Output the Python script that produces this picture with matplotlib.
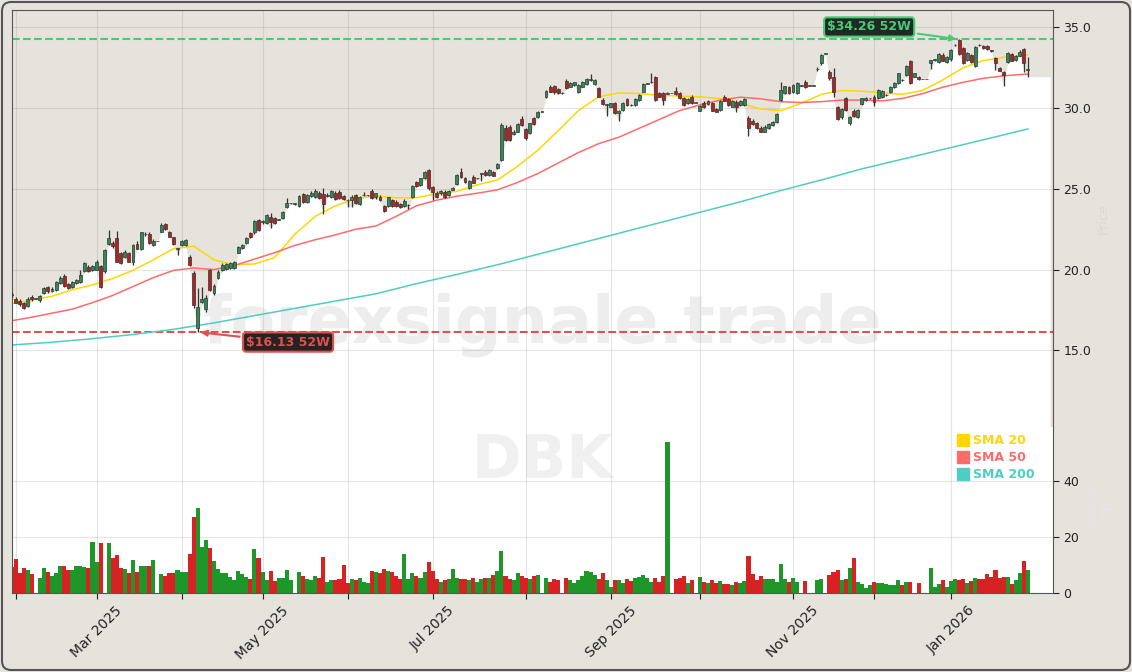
import matplotlib.pyplot as plt
from matplotlib.patches import FancyBboxPatch
from matplotlib.lines import Line2D
import numpy as np
import pandas as pd

ticker = "DBK"
watermark = "forexsignale.trade"

# trading calendar (Xetra holidays removed)
holidays = ["2025-04-18", "2025-04-21", "2025-05-01", "2025-12-24",
            "2025-12-25", "2025-12-26", "2025-12-31", "2026-01-01"]
dates = pd.bdate_range("2025-01-31", "2026-01-29", freq="C", holidays=holidays)

opens = [
  18.5, 18.2, 18.05, 17.9, 17.75, 18.3, 18.2, 18.1, 18.55, 18.9,
  18.7, 18.75, 19.2, 19.6, 19.1, 18.9, 19.15, 19.25, 19.9, 20.15,
  19.95, 20.0, 20.2, 19.9, 21.6, 21.65, 21.95, 21.0, 20.8, 21.0,
  20.45, 21.6, 21.3, 22.2, 22.2, 21.5, 21.75, 22.35, 22.8, 22.3,
  22.0, 21.3, 21.5, 21.5, 20.75, 19.8, 16.4, 18.0, 17.55, 19.95,
  18.55, 19.45, 20.0, 20.05, 20.1, 20.1, 21.05, 21.35, 21.65, 22.25,
  22.3, 23.05, 22.95, 22.9, 23.28, 23.18, 23.1, 23.18, 23.9, 24.1,
  24.07, 23.94, 24.69, 24.21, 24.56, 24.52, 24.77, 24.69, 24.56, 24.52,
  24.77, 24.83, 24.56, 24.32, 24.32, 24.63, 24.07, 24.6, 24.6, 24.89,
  24.48, 24.52, 23.96, 23.94, 24.32, 24.21, 24.07, 23.94, 24.0, 24.52,
  25.45, 25.24, 25.66, 26.17, 25.14, 24.77, 24.73, 24.83, 24.63, 24.94,
  25.29, 26.05, 25.66, 25.04, 25.76, 25.66, 25.93, 26.07, 25.86, 26.03,
  26.28, 26.79, 28.76, 28.82, 28.41, 28.55, 29.31, 28.7, 28.45, 29.38,
  29.44, 29.79, 30.68, 31.34, 31.38, 31.17, 30.92, 31.71, 31.34, 31.44,
  31.03, 31.34, 31.5, 31.75, 31.5, 31.23, 30.51, 30.2, 30.1, 30.31,
  29.69, 29.89, 30.55, 30.2, 30.2, 30.51, 31.03, 31.52, 31.6, 31.92,
  30.92, 30.92, 30.9, 30.92, 31.07, 30.92, 30.62, 30.31, 30.72, 30.35,
  29.85, 30.35, 30.26, 30.31, 29.93, 29.89, 30.72, 30.55, 30.1, 30.41,
  30.2, 30.2, 29.38, 29.21, 29.07, 28.8, 28.55, 28.76, 28.96, 29.17,
  30.51, 30.92, 31.33, 31.02, 30.92, 31.4, 31.64, 31.38, 31.38, 32.4,
  32.78, 33.36, 32.26, 31.95, 30.05, 29.43, 30.61, 29.1, 29.85, 29.43,
  30.26, 30.51, 30.6, 30.71, 30.61, 30.71, 30.8, 31.02, 31.29, 31.58,
  31.75, 32.06, 32.95, 31.95, 31.95, 31.79, 31.79, 32.78, 32.99, 32.88,
  33.3, 32.88, 33.03, 33.9, 34.2, 33.71, 32.99, 33.3, 32.61, 33.92,
  33.85, 33.85, 33.57, 33.09, 32.47, 32.26, 32.88, 33.36, 32.99, 33.23,
  33.65, 32.38,
]
highs = [
  18.6, 18.3, 18.15, 18.0, 18.3, 18.4, 18.2, 18.45, 18.9, 19.0,
  18.9, 19.3, 19.6, 19.7, 19.2, 19.3, 19.4, 20.0, 20.45, 20.3,
  20.3, 20.6, 20.3, 21.3, 22.45, 21.75, 22.4, 21.1, 21.2, 21.1,
  21.6, 21.75, 22.35, 22.3, 22.3, 21.9, 21.75, 22.9, 22.9, 22.4,
  22.05, 21.35, 21.85, 21.9, 20.9, 19.9, 18.85, 18.9, 18.4, 20.05,
  19.1, 19.95, 20.4, 20.4, 20.45, 20.55, 21.45, 21.6, 22.0, 22.3,
  23.1, 23.15, 23.05, 23.45, 23.49, 23.25, 23.15, 23.65, 24.42, 24.15,
  24.12, 24.6, 24.75, 24.7, 24.85, 25.0, 24.85, 25.04, 24.75, 24.95,
  24.85, 24.9, 24.62, 24.4, 24.6, 24.7, 24.55, 24.82, 24.65, 25.0,
  24.75, 24.6, 24.0, 24.5, 24.4, 24.3, 24.15, 24.35, 24.05, 25.25,
  25.5, 25.7, 26.1, 26.25, 25.2, 24.85, 24.95, 24.9, 24.95, 25.12,
  25.9, 26.3, 25.75, 25.55, 25.85, 25.7, 25.97, 26.15, 26.25, 26.1,
  26.6, 29.05, 28.95, 28.95, 28.62, 29.1, 29.5, 28.8, 29.1, 29.45,
  29.85, 29.85, 31.15, 31.45, 31.45, 31.25, 30.97, 31.8, 31.6, 31.62,
  31.5, 31.7, 31.85, 32.12, 31.8, 31.3, 30.6, 30.25, 30.35, 30.4,
  29.9, 30.4, 30.65, 30.25, 30.6, 30.85, 31.55, 31.58, 32.2, 32.0,
  31.0, 31.0, 30.97, 30.92, 31.34, 30.97, 30.7, 30.6, 30.8, 30.35,
  30.18, 30.45, 30.5, 30.4, 30.0, 30.5, 30.8, 30.6, 30.5, 30.5,
  30.5, 30.6, 29.5, 29.3, 29.15, 28.88, 28.95, 29.1, 29.2, 29.7,
  31.65, 31.4, 31.4, 31.5, 31.6, 31.45, 31.75, 31.38, 31.38, 32.55,
  33.36, 33.36, 32.37, 32.47, 30.15, 30.0, 30.7, 29.5, 29.95, 29.95,
  30.65, 30.7, 30.65, 30.8, 31.2, 31.15, 30.85, 31.4, 31.65, 32.2,
  31.8, 32.65, 33.0, 32.2, 32.0, 31.79, 31.79, 33.0, 33.05, 33.4,
  33.4, 33.2, 33.65, 34.0, 34.26, 33.8, 33.45, 33.35, 33.85, 33.97,
  33.9, 33.9, 33.62, 33.15, 32.55, 32.3, 33.45, 33.4, 33.3, 33.6,
  33.7, 33.19,
]
lows = [
  18.3, 17.9, 17.75, 17.55, 17.7, 18.05, 18.2, 18.0, 18.5, 18.55,
  18.6, 18.7, 19.1, 18.95, 18.8, 18.85, 19.1, 19.2, 19.85, 19.85,
  19.9, 19.95, 18.85, 19.8, 21.55, 21.35, 20.45, 20.35, 20.7, 20.45,
  20.3, 21.25, 21.2, 22.1, 21.6, 21.45, 21.75, 22.3, 22.45, 22.0,
  21.55, 20.9, 21.45, 21.45, 20.25, 17.6, 16.13, 17.9, 17.4, 18.7,
  18.4, 19.4, 19.9, 20.0, 20.05, 20.05, 21.0, 21.3, 21.6, 21.95,
  22.2, 22.4, 22.85, 22.85, 22.56, 22.85, 23.05, 23.12, 23.8, 24.05,
  24.0, 23.9, 24.15, 24.15, 24.5, 24.45, 24.4, 23.45, 24.5, 24.45,
  24.3, 24.35, 24.3, 23.9, 23.9, 24.05, 24.0, 24.55, 24.55, 24.4,
  24.4, 24.25, 23.55, 23.9, 23.9, 23.9, 23.8, 23.9, 23.74, 24.45,
  25.1, 25.2, 25.6, 24.95, 24.32, 24.45, 24.65, 24.45, 24.55, 24.9,
  25.25, 25.65, 25.35, 25.0, 25.35, 25.6, 25.5, 25.82, 25.8, 25.78,
  26.25, 26.75, 27.95, 27.95, 28.35, 28.5, 28.9, 28.05, 28.4, 28.98,
  29.4, 29.75, 30.6, 30.98, 30.9, 30.88, 30.88, 31.18, 31.3, 31.4,
  30.95, 31.3, 31.45, 31.7, 31.45, 30.68, 30.22, 29.5, 30.05, 29.65,
  29.23, 29.85, 30.15, 30.15, 30.15, 30.45, 31.0, 31.5, 31.55, 30.45,
  30.68, 30.2, 30.85, 30.92, 30.82, 30.58, 30.15, 30.25, 30.28, 30.35,
  29.8, 30.0, 30.2, 29.8, 29.75, 29.85, 30.43, 30.15, 30.05, 29.79,
  30.15, 30.15, 28.28, 28.95, 28.7, 28.5, 28.5, 28.7, 28.9, 29.1,
  30.45, 30.85, 30.85, 30.95, 30.85, 31.35, 31.23, 31.38, 31.38, 32.3,
  32.7, 33.36, 31.75, 30.71, 29.25, 29.35, 29.85, 28.95, 29.45, 29.38,
  30.2, 30.45, 30.55, 30.14, 30.55, 30.65, 30.78, 30.95, 31.25, 31.5,
  31.7, 32.0, 31.5, 31.9, 31.75, 31.79, 31.79, 32.45, 32.9, 32.82,
  32.9, 32.82, 32.95, 33.85, 33.3, 32.75, 32.95, 32.82, 32.55, 33.87,
  33.65, 33.6, 33.5, 32.37, 32.28, 31.38, 32.8, 32.9, 32.95, 33.2,
  32.26, 31.95,
]
closes = [
  18.4, 17.95, 17.85, 17.65, 18.2, 18.15, 18.2, 18.35, 18.85, 18.65,
  18.8, 19.25, 19.5, 19.0, 18.85, 19.25, 19.35, 19.65, 20.4, 19.9,
  20.2, 20.5, 18.9, 21.2, 21.95, 21.45, 20.5, 20.4, 21.1, 20.5,
  21.5, 21.3, 22.3, 22.2, 21.65, 21.8, 21.75, 22.75, 22.5, 22.05,
  21.6, 21.3, 21.8, 21.85, 20.3, 17.8, 17.7, 18.2, 18.25, 18.75,
  19.0, 19.85, 20.3, 20.33, 20.38, 20.48, 21.4, 21.55, 21.95, 22.05,
  23.0, 22.45, 22.97, 23.38, 22.97, 22.91, 23.12, 23.59, 24.11, 24.11,
  24.07, 24.56, 24.21, 24.63, 24.77, 24.89, 24.46, 24.07, 24.6, 24.89,
  24.36, 24.42, 24.36, 24.3, 24.52, 24.11, 24.52, 24.65, 24.6, 24.42,
  24.73, 24.32, 23.63, 24.48, 23.94, 23.94, 23.86, 24.27, 24.01, 25.18,
  25.18, 25.66, 26.03, 25.04, 24.83, 24.52, 24.89, 24.52, 24.89, 25.08,
  25.86, 25.72, 25.41, 25.51, 25.39, 25.67, 25.93, 25.86, 26.17, 25.82,
  26.55, 28.96, 28.03, 28.03, 28.55, 29.02, 28.96, 28.14, 29.07, 29.02,
  29.79, 29.8, 31.07, 31.03, 30.97, 30.92, 30.93, 31.23, 31.54, 31.59,
  31.44, 31.65, 31.79, 31.76, 31.75, 30.72, 30.26, 30.2, 30.31, 29.69,
  29.85, 30.35, 30.2, 30.19, 30.55, 30.82, 31.5, 31.55, 31.65, 30.51,
  30.72, 30.51, 30.93, 30.92, 30.86, 30.62, 30.2, 30.55, 30.31, 30.35,
  30.14, 30.06, 30.47, 29.85, 29.79, 30.47, 30.47, 30.2, 30.47, 30.1,
  30.47, 30.55, 28.76, 29.02, 28.76, 28.55, 28.86, 29.02, 29.17, 29.64,
  31.13, 31.35, 30.92, 31.44, 31.54, 31.4, 31.33, 31.38, 31.38, 32.45,
  33.3, 33.36, 31.85, 31.02, 29.31, 29.93, 29.89, 29.43, 29.52, 29.89,
  30.61, 30.65, 30.61, 30.4, 31.13, 31.09, 30.82, 31.33, 31.58, 32.16,
  31.74, 32.61, 31.54, 32.16, 31.79, 31.79, 31.79, 32.99, 33.0, 33.36,
  32.95, 33.15, 33.61, 33.92, 33.36, 32.82, 33.4, 32.88, 33.81, 33.9,
  33.71, 33.65, 33.55, 32.78, 32.33, 32.06, 33.4, 32.95, 33.23, 33.5,
  32.78, 32.42,
]
# volume in millions
volumes = [
  9.4, 12.0, 7.3, 8.8, 8.2, 6.8, 0, 5.2, 8.8, 7.4,
  6.1, 7.0, 9.6, 9.6, 8.2, 8.2, 9.6, 9.6, 9.4, 8.8,
  18.1, 11.0, 17.7, 0, 17.7, 12.4, 13.6, 8.8, 8.5, 7.3,
  11.8, 7.4, 9.6, 9.6, 9.6, 11.8, 0, 6.7, 6.1, 7.0,
  7.0, 8.2, 7.4, 7.4, 13.9, 27.0, 30.2, 16.5, 18.9, 16.0,
  11.4, 8.5, 7.0, 7.0, 5.6, 4.6, 7.9, 6.8, 5.6, 4.9,
  15.7, 12.4, 7.4, 4.6, 7.9, 4.2, 5.2, 5.2, 8.2, 4.6,
  0, 7.4, 6.0, 5.0, 4.5, 6.0, 5.5, 13.0, 4.0, 4.5,
  4.5, 5.0, 10.0, 3.5, 5.0, 4.5, 5.5, 4.0, 3.5, 8.0,
  7.5, 7.0, 8.5, 8.0, 7.5, 6.0, 5.0, 14.0, 5.0, 7.0,
  6.0, 5.5, 7.5, 11.0, 8.0, 5.0, 4.0, 4.5, 5.0, 8.5,
  5.5, 5.0, 5.0, 4.5, 5.5, 4.0, 5.0, 5.5, 5.5, 6.5,
  8.0, 15.0, 6.0, 5.0, 4.5, 7.0, 6.0, 5.5, 5.0, 6.0,
  6.5, 0, 5.5, 4.0, 5.0, 4.5, 0, 5.5, 4.5, 3.5,
  4.5, 6.0, 8.0, 7.5, 6.5, 5.0, 7.0, 4.6, 2.3, 4.6,
  4.6, 3.7, 5.0, 4.3, 5.2, 5.8, 6.4, 5.2, 4.0, 5.2,
  4.0, 6.1, 53.9, 0, 5.0, 5.2, 6.1, 3.7, 4.6, 0,
  5.8, 4.0, 3.7, 4.6, 3.5, 4.3, 3.2, 3.2, 2.9, 3.8,
  3.5, 4.3, 13.2, 6.8, 4.6, 6.1, 5.0, 5.0, 5.0, 3.8,
  10.4, 5.0, 3.8, 5.2, 3.8, 0, 4.2, 0, 0, 4.6,
  5.0, 0, 6.5, 7.5, 8.2, 4.5, 5.0, 8.8, 12.6, 3.8,
  3.2, 1.7, 2.9, 3.8, 3.5, 3.5, 3.2, 2.9, 2.9, 4.6,
  2.9, 3.8, 3.8, 0, 3.5, 0, 0, 8.8, 2.3, 3.2,
  4.6, 2.3, 4.3, 4.9, 4.6, 4.9, 3.5, 4.3, 5.2, 5.0,
  5.0, 6.8, 5.8, 8.2, 5.2, 5.6, 5.6, 3.2, 4.6, 7.0,
  11.4, 8.2,
]

sma20_idx = list(range(0, 251, 5)) + [251]
sma20 = [17.9, 18.1, 18.35, 18.75, 19.05, 19.45, 19.95, 20.6, 21.3, 21.45,
         20.6, 20.3, 20.35, 20.75, 22.2, 23.3, 23.95, 24.4, 24.55, 24.45,
         24.45, 24.7, 24.85, 25.25, 25.55, 26.4, 27.4, 28.6, 29.85, 30.7,
         30.95, 30.9, 30.8, 30.75, 30.7, 30.6, 30.3, 29.95, 29.85, 30.3,
         30.85, 31.1, 31.05, 30.95, 30.85, 31.1, 31.75, 32.5, 32.95, 33.15,
         33.3, 33.3]
sma50_idx = list(range(0, 251, 5)) + [251]
sma50 = [16.83, 17.05, 17.3, 17.55, 17.95, 18.4, 18.95, 19.5, 19.95, 20.1,
         20.0, 20.25, 20.65, 21.05, 21.5, 21.85, 22.15, 22.5, 22.7, 23.3,
         23.95, 24.3, 24.55, 24.73, 24.94, 25.4, 25.95, 26.6, 27.25, 27.8,
         28.2, 28.75, 29.3, 29.85, 30.2, 30.5, 30.68, 30.58, 30.4, 30.35,
         30.4, 30.5, 30.5, 30.45, 30.6, 30.9, 31.3, 31.6, 31.85, 32.0,
         32.1, 32.1]
sma200_idx = list(range(0, 251, 10)) + [251]
sma200 = [15.33, 15.5, 15.72, 15.98, 16.3, 16.7, 17.15, 17.6, 18.05, 18.5,
          19.13, 19.7, 20.3, 20.95, 21.6, 22.25, 22.9, 23.55, 24.2, 24.9,
          25.55, 26.24, 26.84, 27.44, 28.04, 28.65, 28.71]

bg = "#e6e3dd"
up_col, dn_col = "#2e8b57", "#b22222"
vup_col, vdn_col = "#1e962a", "#d62222"
sma_cols = ["#FFD700", "#FF6B6B", "#4ECDC4"]
hi_col, lo_col = "#4cc878", "#d9534f"

W, H = 1132, 672
fig = plt.figure(figsize=(W / 100, H / 100), dpi=100, facecolor=bg)
left, right = 11.5 / W, 1053 / W
ax = fig.add_axes([left, (H - 427) / H, right - left, (427 - 10) / H], facecolor=bg)
axv = fig.add_axes([left, (H - 593) / H, right - left, (593 - 427) / H], facecolor="white")

n = len(closes)
x = np.arange(n)
o, h, l, c = (np.array(a) for a in (opens, highs, lows, closes))
up = c >= o

# white area under the lows
xf = np.append(x, n - 1 + 5.5)
lf = np.append(l, l[-1])
ax.fill_between(xf, lf, 0, color="white", lw=0, zorder=0.5)

# candles
ax.vlines(x, l, h, color="#333333", lw=0.9, zorder=3)
body = np.maximum(np.abs(c - o), 0.03)
ax.bar(x, body, bottom=np.minimum(o, c), width=0.72,
       color=np.where(up, up_col, dn_col), edgecolor="#333333", lw=0.5, zorder=4)

# moving averages
ax.plot(sma20_idx, sma20, color=sma_cols[0], lw=1.1, zorder=2.5)
ax.plot(sma50_idx, sma50, color=sma_cols[1], lw=1.1, zorder=2.5)
ax.plot(sma200_idx, sma200, color=sma_cols[2], lw=1.1, zorder=2.5)

# 52 week high / low
hi_i, lo_i = int(np.argmax(h)), int(np.argmin(l))
hi, lo = h[hi_i], l[lo_i]
ax.axhline(hi, color=hi_col, ls="--", lw=1.5, zorder=2)
ax.axhline(lo, color=lo_col, ls="--", lw=1.5, zorder=2)
ax.annotate(f"${hi:.2f} 52W", xy=(hi_i, hi), xytext=(211.8, 35.03),
            ha="center", va="center", fontsize=9, fontweight="bold", color=hi_col,
            bbox=dict(boxstyle="round,pad=0.25", fc="#1f2a24", ec=hi_col, lw=1.5),
            arrowprops=dict(arrowstyle="-|>", color=hi_col, lw=1.5), zorder=6)
ax.annotate(f"${lo:.2f} 52W", xy=(lo_i, lo), xytext=(68.3, 15.51),
            ha="center", va="center", fontsize=9, fontweight="bold", color=lo_col,
            bbox=dict(boxstyle="round,pad=0.25", fc="#2a2222", ec=lo_col, lw=1.5),
            arrowprops=dict(arrowstyle="-|>", color=lo_col, lw=1.5), zorder=6)

ax.text(0.51, 0.245, watermark, transform=ax.transAxes, ha="center", va="center",
        fontsize=47, fontweight="bold", color="#888888", alpha=0.15, zorder=1)

# volume
v = np.array(volumes)
axv.bar(x, v, width=1.0, color=np.where(up, vup_col, vdn_col), zorder=2)
axv.text(0.51, 0.795, ticker, transform=axv.transAxes, ha="center", va="center",
         fontsize=43, fontweight="bold", color="#888888", alpha=0.12, zorder=1)

handles = [Line2D([], [], marker="s", ls="", color=cl, markersize=8) for cl in sma_cols]
leg = axv.legend(handles, ["SMA 20", "SMA 50", "SMA 200"], loc="upper right",
                 frameon=False, fontsize=9, handlelength=0.8, handletextpad=0.4,
                 labelspacing=0.3, borderaxespad=0.2, bbox_to_anchor=(0.99, 1.0))
for t, cl in zip(leg.get_texts(), sma_cols):
  t.set_color(cl)
  t.set_fontweight("bold")

# axes cosmetics
month_idx = [i for i in range(1, n) if dates[i].month != dates[i - 1].month]
month_lbl = [dates[i].strftime("%b %Y") if dates[i].month % 2 == 1 else "" for i in month_idx]

for a in (ax, axv):
  a.set_xlim(0, 257.2)
  a.set_xticks(month_idx)
  a.grid(True, color="#808080", alpha=0.2, lw=0.8)
  a.yaxis.tick_right()
  a.tick_params(axis="y", labelsize=9, colors="#222222", length=4)
  for s in a.spines.values():
    s.set_color("#555555")

ax.set_ylim(10.25, 36.08)
ax.set_yticks([15, 20, 25, 30, 35])
ax.set_yticklabels([f"{t:.1f}" for t in [15, 20, 25, 30, 35]])
ax.tick_params(axis="x", length=0, labelbottom=False)
ax.spines["bottom"].set_visible(False)
ax.yaxis.set_label_position("right")
ax.set_ylabel("Price", color="#dcd9d3", fontsize=9)

axv.set_ylim(0, 59.3)
axv.set_yticks([0, 20, 40])
axv.set_xticklabels(month_lbl, rotation=45, fontsize=10, color="#222222")
axv.tick_params(axis="x", length=4, colors="#222222")
axv.spines["top"].set_visible(False)
axv.yaxis.set_label_position("right")
axv.set_ylabel("Volume\n(M)", color="#e6e6e6", fontsize=9)

fig.patches.append(FancyBboxPatch((2 / W, 2 / H), (W - 4) / W, (H - 4) / H,
                                  boxstyle="round,pad=0,rounding_size=0.008",
                                  mutation_aspect=W / H, transform=fig.transFigure,
                                  fill=False, ec="#555555", lw=1.5))

fig.savefig("out.png", dpi=100, facecolor=bg)
